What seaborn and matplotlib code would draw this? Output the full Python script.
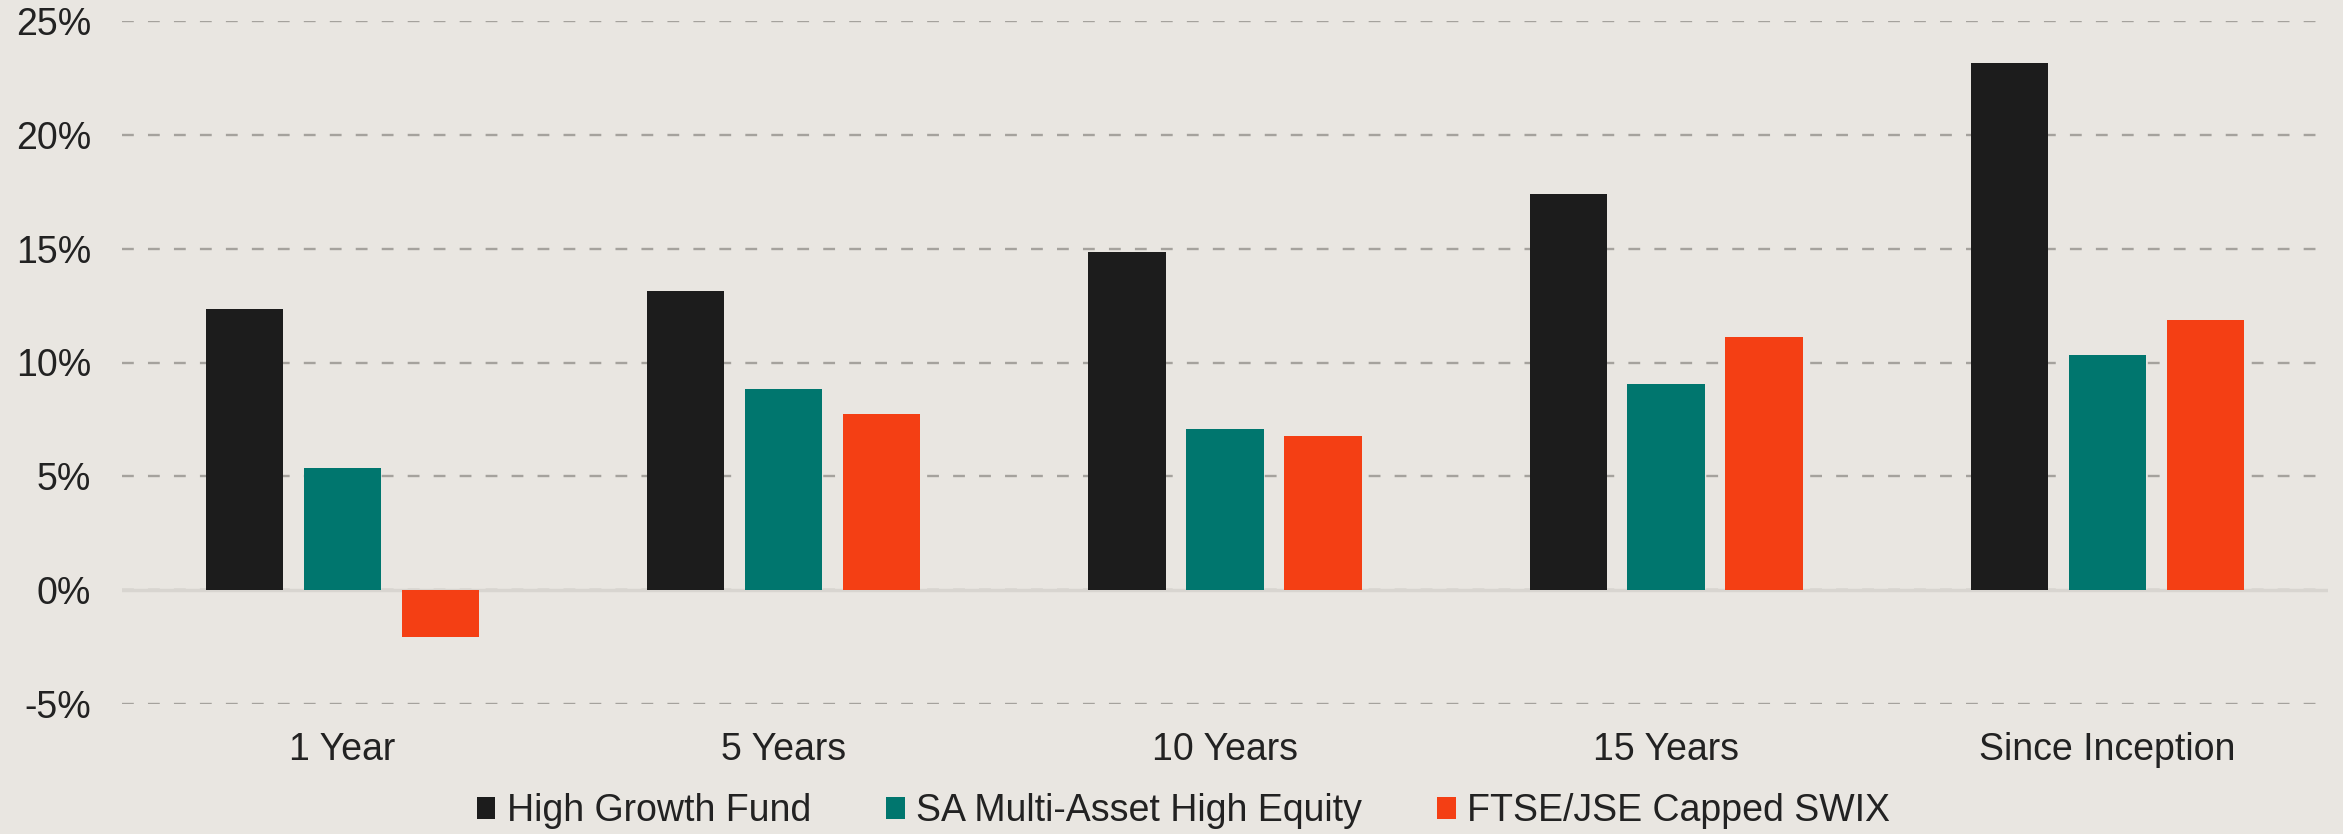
import pandas as pd
import seaborn as sns
import matplotlib.pyplot as plt
from matplotlib.ticker import FuncFormatter

periods = ['1 Year', '5 Years', '10 Years', '15 Years', 'Since Inception']
series_names = ['High Growth Fund', 'SA Multi-Asset High Equity', 'FTSE/JSE Capped SWIX']
high_growth = [12.35, 13.15, 14.85, 17.4, 23.15]
sa_multi_asset = [5.35, 8.85, 7.1, 9.05, 10.35]
capped_swix = [-2.05, 7.75, 6.75, 11.1, 11.85]
colors = ['#1c1c1c', '#00766e', '#f43f14']

bg = '#e9e6e1'

df = pd.DataFrame({
    'period': periods * 3,
    'series': [s for s in series_names for _ in periods],
    'value': high_growth + sa_multi_asset + capped_swix,
})

sns.set_theme(style='white')
plt.rcParams['font.family'] = ['Liberation Sans', 'DejaVu Sans']

fig = plt.figure(figsize=(23.43, 8.34), dpi=100, facecolor=bg)
ax = fig.add_axes([0.052, 1 - 704 / 834, 0.9416, (704 - 21) / 834])
ax.set_facecolor(bg)

sns.barplot(data=df, x='period', y='value', hue='series', order=periods,
            hue_order=series_names, palette=colors, width=0.666, gap=0.21,
            saturation=1, linewidth=0, ax=ax, zorder=3)

ax.set_ylim(-5, 25)
ax.set_yticks(range(-5, 30, 5))
ax.yaxis.set_major_formatter(FuncFormatter(lambda v, p: f'{v:.0f}%'))
ax.set_axisbelow(True)
ax.yaxis.grid(True, color='#a5a29d', linestyle=(0, (5, 6)), linewidth=1.7)
ax.xaxis.grid(False)
ax.axhline(0, color='#d8d5d0', linewidth=2.5, zorder=2)
for s in ax.spines.values():
    s.set_visible(False)
ax.set_xlabel('')
ax.set_ylabel('')
ax.tick_params(axis='y', length=0, pad=22, labelsize=27, labelcolor='#222222')
ax.tick_params(axis='x', length=0, pad=20, labelsize=27, labelcolor='#222222')

handles, labels = ax.get_legend_handles_labels()
ax.get_legend().remove()
fig.legend(handles, labels, loc='lower center', bbox_to_anchor=(0.505, -0.035),
           ncol=3, frameon=False, fontsize=27, handlelength=0.5, handleheight=0.5,
           handletextpad=0.3, columnspacing=2.0, labelcolor='#222222')

fig.savefig('out.png', dpi=100, facecolor=bg)
